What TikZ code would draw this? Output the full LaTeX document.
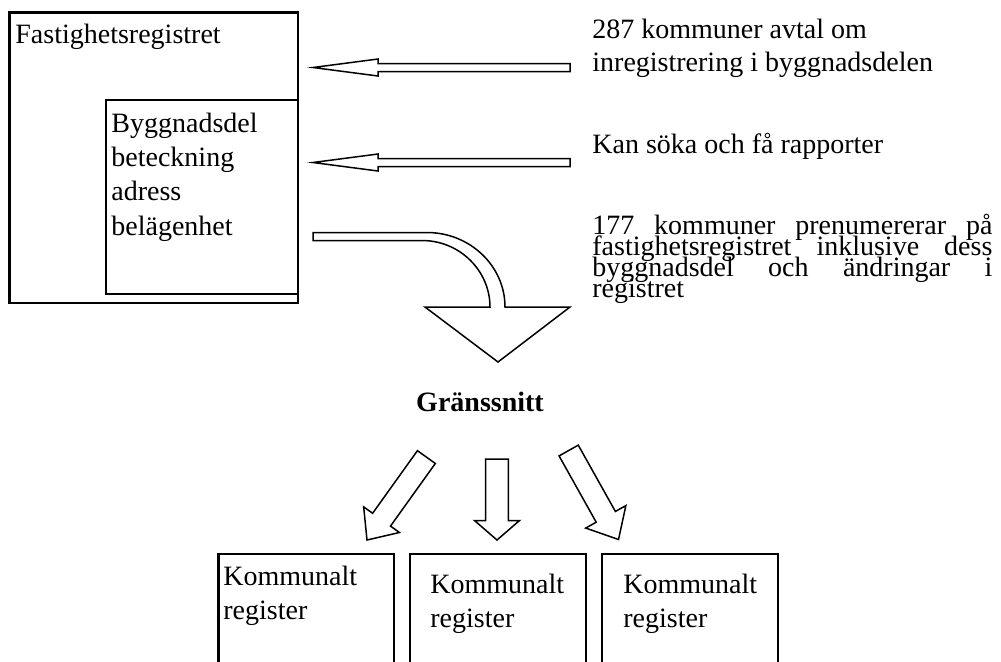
\documentclass[tikz,border=0pt]{standalone}
\usepackage{fontspec}
\setmainfont{Liberation Serif}
\usetikzlibrary{calc}
\newcommand{\tightlines}{\lineskiplimit -20pt\relax}
\tikzset{
  regbox/.style={draw, line width=1.1pt},
  blockarr/.style={draw, line width=0.75pt, line join=miter, fill=white},
  txt/.style={anchor=base west, inner sep=0pt, align=left, font=\fontsize{14}{17}\selectfont},
}

\begin{document}
\begin{tikzpicture}[x=0.5pt, y=0.5pt]
\useasboundingbox (0,0) rectangle (1001,-661);
\clip (0,0) rectangle (1001,-661);
%the register
\draw [regbox] (9.5,-12.5) rectangle (298,-303);
\draw [regbox] (106,-100) rectangle (298,-294);
\node [txt] (fastreg) at (15,-43) {Fastighetsregistret};
\node [txt, font={\fontsize{14}{17.15}\selectfont}] (byggdel) at (111,-235) {Byggnadsdel\\beteckning\\adress\\belägenhet};

%the texts on the right
\node [txt, font={\fontsize{14}{16.5}\selectfont}] (avtal) at (592,-71) {287 kommuner avtal om\\inregistrering i byggnadsdelen};
\node [txt] (soka) at (592,-153) {Kan söka och få rapporter};
\node [txt, font={\fontsize{14}{10.35}\selectfont\tightlines}] (pren) at (592,-297)
  {\makebox[200pt][s]{177 kommuner prenumererar på}\\
   \makebox[200pt][s]{fastighetsregistret inklusive dess}\\
   \makebox[200pt][s]{byggnadsdel och ändringar i}\\
   registret};

%the arrows
\draw [blockarr] (313,-67.5) -- (378,-59) -- (378,-63.5) -- (570,-63.5) -- (570,-71.5) -- (378,-71.5) -- (378,-76) -- cycle;
\draw [blockarr] (313,-162.5) -- (378,-154) -- (378,-158.5) -- (570,-158.5) -- (570,-166.5) -- (378,-166.5) -- (378,-171) -- cycle;
%the bent arrow
\draw [blockarr] (313,-232.5) -- (427,-232.5) .. controls (470,-232.5) and (505,-266) .. (505,-307)
  -- (570,-307) -- (498,-362) -- (425,-307) -- (490,-307)
  .. controls (490,-271) and (460,-240.5) .. (422,-240.5) -- (313,-240.5) -- cycle;

%the interface
\node [txt, anchor=base, font={\bfseries\fontsize{14}{17}\selectfont}] (grans) at (480,-411) {Gränssnitt};
\draw [blockarr, shift={(367,-540)}, rotate=234.4] (0,0) -- (-25,22) -- (-25,11) -- (-102,11) -- (-102,-11) -- (-25,-11) -- (-25,-22) -- cycle;
\draw [blockarr, shift={(497,-540)}, rotate=270] (0,0) -- (-19.5,22.5) -- (-19.5,11.3) -- (-81,11.3) -- (-81,-11.3) -- (-19.5,-11.3) -- (-19.5,-22.5) -- cycle;
\draw [blockarr, shift={(618.5,-539.5)}, rotate=-60.75] (0,0) -- (-26,23) -- (-26,11) -- (-102,11) -- (-102,-11) -- (-26,-11) -- (-26,-23) -- cycle;

%the municipal registers
\draw [regbox] (218.5,-554) rectangle (394,-700);
\draw [regbox] (410,-554) rectangle (586,-700);
\draw [regbox] (602,-554) rectangle (778,-700);
\node [txt] (komm1) at (223,-619) {Kommunalt\\register};
\node [txt] (komm2) at (430,-627) {Kommunalt\\register};
\node [txt] (komm3) at (623,-627) {Kommunalt\\register};
\end{tikzpicture}
\end{document}
